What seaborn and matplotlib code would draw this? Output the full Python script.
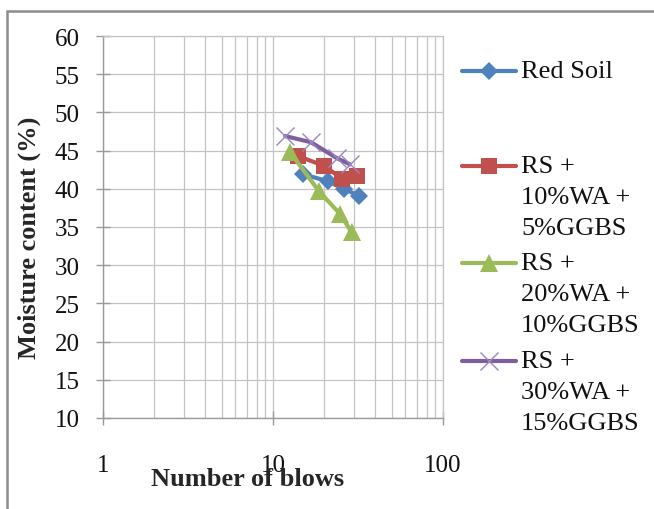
import numpy as np
import pandas as pd
import matplotlib
matplotlib.use("Agg")
import matplotlib.pyplot as plt
from matplotlib.lines import Line2D
from matplotlib.patches import Rectangle
from matplotlib.ticker import FixedLocator, NullFormatter, FixedFormatter
import seaborn as sns

# Liquid-limit flow curves: number of blows vs moisture content
series_names = [
    "Red Soil",
    "RS +\n10%WA +\n5%GGBS",
    "RS +\n20%WA +\n10%GGBS",
    "RS +\n30%WA +\n15%GGBS",
]
blows_red_soil = [15, 21, 26, 32]
moist_red_soil = [41.9, 41.0, 40.0, 39.1]

blows_wa10 = [14, 20, 25.5, 31]
moist_wa10 = [44.3, 43.0, 41.3, 41.7]

blows_wa20 = [12.6, 18.6, 24.8, 29]
moist_wa20 = [44.8, 39.7, 36.7, 34.3]

blows_wa30 = [11.8, 16.7, 23.8, 28.4]
moist_wa30 = [46.9, 46.1, 44.0, 43.2]

y_ticks = [10, 15, 20, 25, 30, 35, 40, 45, 50, 55, 60]
x_ticks = [1, 10, 100]
x_tick_labels = ["1", "10", "100"]

colors = ["#4F81BD", "#C0504D", "#9BBB59", "#7D5FA0"]
markers = ["D", "s", "^", "x"]
marker_sizes = [9.5, 11.5, 12.5, 13]

sns.set_theme(style="white")
plt.rcParams["font.family"] = ["Liberation Serif", "DejaVu Serif"]

fig = plt.figure(figsize=(6.54, 5.10), dpi=100)
ax = fig.add_axes([103 / 654, 1 - 419 / 510, 340 / 654, 382 / 510])

frames = []
for name, xs, ys in zip(
    series_names,
    [blows_red_soil, blows_wa10, blows_wa20, blows_wa30],
    [moist_red_soil, moist_wa10, moist_wa20, moist_wa30],
):
    frames.append(pd.DataFrame({"blows": xs, "moisture": ys, "series": name}))
data = pd.concat(frames, ignore_index=True)

for i, name in enumerate(series_names):
    sub = data[data["series"] == name]
    mk = dict(marker=markers[i], markersize=marker_sizes[i], markeredgewidth=0)
    if markers[i] == "x":
        mk = dict(marker="x", markersize=marker_sizes[i], markeredgewidth=1.0,
                  markeredgecolor="#9A86C0")
    sns.lineplot(data=sub, x="blows", y="moisture", ax=ax, color=colors[i],
                 linewidth=3.0, sort=False, estimator=None, legend=False,
                 zorder=3 + i, **mk)

ax.set_xscale("log")
ax.set_xlim(1, 100)
ax.set_ylim(10, 60)

grid_color = "#c3c3c3"
ax.xaxis.set_major_locator(FixedLocator(x_ticks))
ax.xaxis.set_major_formatter(FixedFormatter(x_tick_labels))
minor_x = [v * d for d in (1, 10) for v in range(2, 10)]
ax.xaxis.set_minor_locator(FixedLocator(minor_x))
ax.xaxis.set_minor_formatter(NullFormatter())
ax.set_yticks(y_ticks)

ax.grid(True, which="both", axis="x", color=grid_color, linewidth=0.9)
ax.grid(True, which="major", axis="y", color=grid_color, linewidth=0.9)
ax.set_axisbelow(True)

for side in ["top", "right"]:
    ax.spines[side].set_color(grid_color)
    ax.spines[side].set_linewidth(0.9)
for side in ["left", "bottom"]:
    ax.spines[side].set_color("#9a9a9a")
    ax.spines[side].set_linewidth(1.0)

ax.tick_params(axis="y", which="major", direction="inout", length=10, width=1.0,
               color="#9a9a9a", pad=12, labelsize=18, labelcolor="#111111", left=True)
ax.tick_params(axis="x", which="major", direction="inout", length=10, width=1.0,
               color="#9a9a9a", pad=21, labelsize=18, labelcolor="#111111", bottom=True)
ax.tick_params(axis="x", which="minor", length=0)

ax.set_xlabel("Number of blows", fontsize=19, fontweight="bold", va="center")
ax.xaxis.set_label_coords((248 - 103) / 340, (419 - 480) / 382)
ax.set_ylabel("Moisture content (%)", fontsize=19, fontweight="bold", va="center")
ax.yaxis.set_label_coords((29 - 103) / 340, (419 - 238) / 382)

# legend keys and labels, stacked down the right-hand side
W, H = 654, 510
key_y = [72, 167, 264, 362]
line_gap = 31
for i, name in enumerate(series_names):
    yk = 1 - key_y[i] / H
    fig.add_artist(Line2D([462 / W, 516 / W], [yk, yk], transform=fig.transFigure,
                          color=colors[i], linewidth=3.0, solid_capstyle="round"))
    if markers[i] == "x":
        fig.add_artist(Line2D([489 / W], [yk], transform=fig.transFigure, marker="x",
                              markersize=marker_sizes[i], markeredgewidth=1.0,
                              markeredgecolor="#9A86C0", linestyle="none"))
    else:
        fig.add_artist(Line2D([489 / W], [yk], transform=fig.transFigure,
                              marker=markers[i], markersize=marker_sizes[i],
                              markeredgewidth=0, color=colors[i], linestyle="none"))
    for j, line in enumerate(name.split("\n")):
        fig.text(521 / W, 1 - (key_y[i] + j * line_gap) / H, line, fontsize=19,
                 ha="left", va="center", color="#111111")

# thin grey frame along the top and left edges
fig.add_artist(Rectangle((7 / W, -0.1), 1.2, 1 - 12 / H + 0.1, transform=fig.transFigure,
                         fill=False, edgecolor="#8c8c8c", linewidth=1.8))

fig.savefig("out.png", dpi=100)
